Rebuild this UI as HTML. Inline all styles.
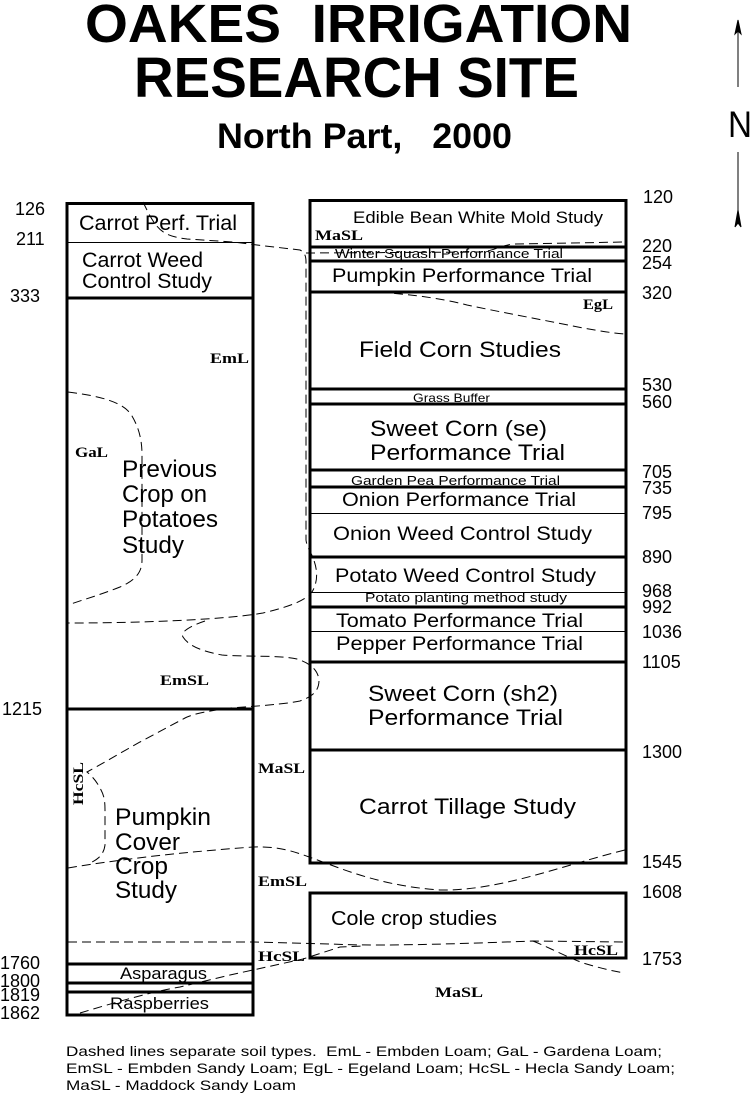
<!DOCTYPE html>
<html><head><meta charset="utf-8"><style>
html,body{margin:0;padding:0;background:#fff;}
svg{display:block;}
.s{font-family:"Liberation Sans",Arial,sans-serif;fill:#000;}
.b{font-family:"Liberation Serif","Times New Roman",serif;font-weight:bold;fill:#000;}
</style></head><body>
<svg width="752" height="1095" viewBox="0 0 752 1095" xmlns="http://www.w3.org/2000/svg">
<rect x="0" y="0" width="752" height="1095" fill="#fff"/>
<!-- Title -->
<text class="s" x="85" y="42" font-size="54" font-weight="bold" textLength="547" lengthAdjust="spacingAndGlyphs" xml:space="preserve">OAKES  IRRIGATION</text>
<text class="s" x="134" y="97" font-size="57" font-weight="bold" textLength="445" lengthAdjust="spacingAndGlyphs">RESEARCH SITE</text>
<text class="s" x="217" y="148" font-size="35" font-weight="bold" textLength="295" lengthAdjust="spacingAndGlyphs" xml:space="preserve">North Part,   2000</text>

<!-- North arrow -->
<g stroke="#000" stroke-width="1" fill="#000">
<line x1="738" y1="30" x2="738" y2="87"/>
<line x1="738" y1="152" x2="738" y2="215"/>
<path d="M738,20 L741,34 L738,31 L735,34 Z"/>
<path d="M738,210 L741,227 L738,223 L735,227 Z"/>
</g>
<text class="s" x="728" y="137" font-size="37" textLength="24" lengthAdjust="spacingAndGlyphs">N</text>

<!-- Structure -->
<g stroke="#000" fill="none" shape-rendering="crispEdges">
<rect x="67" y="203.5" width="186" height="811.5" stroke-width="3"/>
<line x1="67" y1="242.5" x2="253" y2="242.5" stroke-width="1"/>
<line x1="67" y1="298" x2="253" y2="298" stroke-width="3"/>
<line x1="67" y1="709" x2="253" y2="709" stroke-width="3"/>
<line x1="67" y1="964" x2="253" y2="964" stroke-width="3"/>
<line x1="67" y1="983" x2="253" y2="983" stroke-width="3"/>
<line x1="67" y1="992" x2="253" y2="992" stroke-width="3"/>

<rect x="310" y="200.5" width="316" height="662.5" stroke-width="3"/>
<line x1="310" y1="247" x2="626" y2="247" stroke-width="3"/>
<line x1="310" y1="261" x2="626" y2="261" stroke-width="3"/>
<line x1="310" y1="292" x2="626" y2="292" stroke-width="3"/>
<line x1="310" y1="389" x2="626" y2="389" stroke-width="3"/>
<line x1="310" y1="404" x2="626" y2="404" stroke-width="3"/>
<line x1="310" y1="470" x2="626" y2="470" stroke-width="3"/>
<line x1="310" y1="487" x2="626" y2="487" stroke-width="3"/>
<line x1="310" y1="513.5" x2="626" y2="513.5" stroke-width="1"/>
<line x1="310" y1="557" x2="626" y2="557" stroke-width="3"/>
<line x1="310" y1="592.5" x2="626" y2="592.5" stroke-width="1"/>
<line x1="310" y1="607" x2="626" y2="607" stroke-width="3"/>
<line x1="310" y1="631.5" x2="626" y2="631.5" stroke-width="1"/>
<line x1="310" y1="662" x2="626" y2="662" stroke-width="3"/>
<line x1="310" y1="750" x2="626" y2="750" stroke-width="3"/>

<rect x="310" y="893" width="316" height="65" stroke-width="3"/>
</g>

<!-- Soil boundaries (dashed) -->
<g stroke="#000" stroke-width="1" fill="none" stroke-dasharray="9 5">
<path d="M143,202 C147,210 151,219 156,225 C162,233 170,237 187,239 L233,242 L257,245 L300,250 C304,252 306,255 306,262 L306,540 C307,548 311,552 313,558 C318,570 318,582 312,592 C306,600 292,606 263,613 C230,619 150,623 68,623"/>
<path d="M68,392 C100,396 124,402 132,416 C139,428 142,440 142,455 L142,560 C142,572 136,580 120,587 C100,595 82,600 68,605"/>
<path d="M205,621 C190,626 180,632 183,637 C188,645 200,651 222,655 C245,657 280,655 297,659 C310,663 318,670 319,680 C319,690 314,696 300,701 C285,704 260,706 230,708 C210,711 195,713 185,718 L140,742 C115,756 100,765 87,772 C92,776 97,782 100,788 C104,795 105,800 105,810 L105,845 C104,853 100,858 92,862"/>
<path d="M68,868 C110,861 170,853 253,847 C280,846 295,852 312,858 C340,868 380,886 440,890 C500,891 560,866 625,850"/>
<path d="M68,942 L253,942 L330,944 C370,946 430,945 533,941 L625,942"/>
<path d="M80,1013 C110,1004 150,992 180,987 L230,975 L253,970 L303,959 L340,947 L363,946"/>
<path d="M533,941 C550,948 565,956 583,963 C600,968 612,971 625,973"/>
<path d="M310,291 L347,291 C400,292 440,298 467,305 C500,312 533,318 583,328 C600,331 612,333 625,334"/>
<path d="M306,253 L480,252 C495,251 500,245 515,244 L625,242"/>
</g>

<!-- Left numbers -->
<g class="s" font-size="18">
<text x="15" y="215">126</text>
<text x="16" y="245">211</text>
<text x="10" y="302">333</text>
<text x="2" y="715">1215</text>
<text x="0" y="969">1760</text>
<text x="0" y="987">1800</text>
<text x="0" y="1001">1819</text>
<text x="0" y="1019">1862</text>
</g>

<!-- Right numbers -->
<g class="s" font-size="18">
<text x="643" y="203">120</text>
<text x="642" y="252">220</text>
<text x="642" y="269">254</text>
<text x="642" y="299">320</text>
<text x="642" y="391">530</text>
<text x="642" y="408">560</text>
<text x="642" y="478">705</text>
<text x="642" y="494">735</text>
<text x="642" y="519">795</text>
<text x="642" y="563">890</text>
<text x="642" y="597">968</text>
<text x="642" y="613">992</text>
<text x="642" y="638">1036</text>
<text x="642" y="668">1105</text>
<text x="642" y="758">1300</text>
<text x="642" y="868">1545</text>
<text x="642" y="898">1608</text>
<text x="642" y="965">1753</text>
</g>

<!-- Left column labels -->
<g class="s">
<text x="79" y="230" font-size="21" textLength="158" lengthAdjust="spacingAndGlyphs">Carrot Perf. Trial</text>
<text x="82" y="267" font-size="21" textLength="121" lengthAdjust="spacingAndGlyphs">Carrot Weed</text>
<text x="82" y="288" font-size="21" textLength="130" lengthAdjust="spacingAndGlyphs">Control Study</text>
<text x="122" y="477" font-size="24" textLength="95" lengthAdjust="spacingAndGlyphs">Previous</text>
<text x="122" y="502" font-size="24" textLength="85" lengthAdjust="spacingAndGlyphs">Crop on</text>
<text x="122" y="527" font-size="24" textLength="96" lengthAdjust="spacingAndGlyphs">Potatoes</text>
<text x="122" y="553" font-size="24" textLength="62" lengthAdjust="spacingAndGlyphs">Study</text>
<text x="115" y="825" font-size="24" textLength="96" lengthAdjust="spacingAndGlyphs">Pumpkin</text>
<text x="115" y="850" font-size="24" textLength="65" lengthAdjust="spacingAndGlyphs">Cover</text>
<text x="115" y="874" font-size="24" textLength="53" lengthAdjust="spacingAndGlyphs">Crop</text>
<text x="115" y="898" font-size="24" textLength="62" lengthAdjust="spacingAndGlyphs">Study</text>
<text x="120" y="979" font-size="17" textLength="87" lengthAdjust="spacingAndGlyphs">Asparagus</text>
<text x="110" y="1009" font-size="17" textLength="99" lengthAdjust="spacingAndGlyphs">Raspberries</text>
</g>

<!-- Right column labels -->
<g class="s">
<text x="353" y="223" font-size="17" textLength="250" lengthAdjust="spacingAndGlyphs">Edible Bean White Mold Study</text>
<text x="335" y="258" font-size="13" textLength="228" lengthAdjust="spacingAndGlyphs">Winter Squash Performance Trial</text>
<text x="332" y="282" font-size="19" textLength="260" lengthAdjust="spacingAndGlyphs">Pumpkin Performance Trial</text>
<text x="359" y="357" font-size="22" textLength="202" lengthAdjust="spacingAndGlyphs">Field Corn Studies</text>
<text x="413" y="402" font-size="12" textLength="77" lengthAdjust="spacingAndGlyphs">Grass Buffer</text>
<text x="370" y="436" font-size="22" textLength="177" lengthAdjust="spacingAndGlyphs">Sweet Corn (se)</text>
<text x="370" y="460" font-size="22" textLength="195" lengthAdjust="spacingAndGlyphs">Performance Trial</text>
<text x="351" y="485" font-size="13" textLength="209" lengthAdjust="spacingAndGlyphs">Garden Pea Performance Trial</text>
<text x="342" y="506" font-size="19" textLength="234" lengthAdjust="spacingAndGlyphs">Onion Performance Trial</text>
<text x="333" y="540" font-size="19" textLength="259" lengthAdjust="spacingAndGlyphs">Onion Weed Control Study</text>
<text x="335" y="582" font-size="19" textLength="261" lengthAdjust="spacingAndGlyphs">Potato Weed Control Study</text>
<text x="365" y="602" font-size="13" textLength="202" lengthAdjust="spacingAndGlyphs">Potato planting method study</text>
<text x="336" y="627" font-size="19" textLength="247" lengthAdjust="spacingAndGlyphs">Tomato Performance Trial</text>
<text x="336" y="650" font-size="19" textLength="247" lengthAdjust="spacingAndGlyphs">Pepper Performance Trial</text>
<text x="368" y="701" font-size="22" textLength="190" lengthAdjust="spacingAndGlyphs">Sweet Corn (sh2)</text>
<text x="368" y="725" font-size="22" textLength="195" lengthAdjust="spacingAndGlyphs">Performance Trial</text>
<text x="359" y="814" font-size="22" textLength="217" lengthAdjust="spacingAndGlyphs">Carrot Tillage Study</text>
<text x="331" y="925" font-size="20" textLength="166" lengthAdjust="spacingAndGlyphs">Cole crop studies</text>
</g>

<!-- Soil labels -->
<g class="b" font-size="15">
<text x="315" y="240" textLength="48" lengthAdjust="spacingAndGlyphs">MaSL</text>
<text x="583" y="309" textLength="30" lengthAdjust="spacingAndGlyphs">EgL</text>
<text x="210" y="363" textLength="39" lengthAdjust="spacingAndGlyphs">EmL</text>
<text x="75" y="457" textLength="33" lengthAdjust="spacingAndGlyphs">GaL</text>
<text x="160" y="685" textLength="49" lengthAdjust="spacingAndGlyphs">EmSL</text>
<text x="258" y="773" textLength="47" lengthAdjust="spacingAndGlyphs">MaSL</text>
<text x="258" y="886" textLength="49" lengthAdjust="spacingAndGlyphs">EmSL</text>
<text x="258" y="961" textLength="47" lengthAdjust="spacingAndGlyphs">HcSL</text>
<text x="574" y="955" textLength="44" lengthAdjust="spacingAndGlyphs">HcSL</text>
<text x="435" y="997" textLength="48" lengthAdjust="spacingAndGlyphs">MaSL</text>
<text transform="translate(83,805) rotate(-90)" x="0" y="0" textLength="43" lengthAdjust="spacingAndGlyphs">HcSL</text>
</g>

<!-- Legend -->
<g class="s" font-size="14">
<text x="66" y="1056" textLength="596" lengthAdjust="spacingAndGlyphs" xml:space="preserve">Dashed lines separate soil types.  EmL - Embden Loam; GaL - Gardena Loam;</text>
<text x="66" y="1073" textLength="609" lengthAdjust="spacingAndGlyphs">EmSL - Embden Sandy Loam; EgL - Egeland Loam; HcSL - Hecla Sandy Loam;</text>
<text x="66" y="1090" textLength="230" lengthAdjust="spacingAndGlyphs">MaSL - Maddock Sandy Loam</text>
</g>
</svg>
</body></html>
